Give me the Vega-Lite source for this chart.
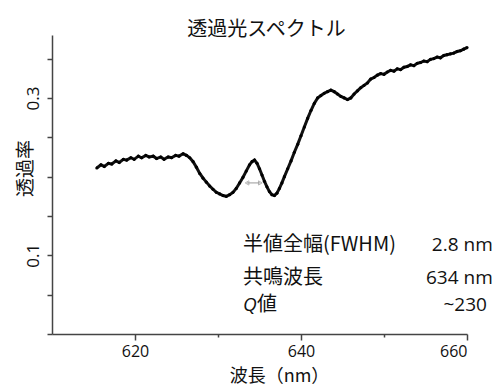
{
  "$schema": "https://vega.github.io/schema/vega-lite/v6.json",
  "autosize": {"type": "none"},
  "padding": {"left": 52, "top": 35, "right": 32, "bottom": 51},
  "width": 415,
  "height": 299,
  "background": "white",
  "title": {"text": "透過光スペクトル", "font": "Noto Sans CJK JP", "fontSize": 20, "fontWeight": "normal", "color": "#111", "anchor": "middle", "dx": 7, "offset": -5},
  "config": {"view": {"stroke": null}},
  "datasets": {
    "spectrum": [
      {"wl": 615.4, "T": 0.211}, {"wl": 615.9, "T": 0.215}, {"wl": 616.3, "T": 0.213}, {"wl": 616.8, "T": 0.217},
      {"wl": 617.2, "T": 0.216}, {"wl": 617.7, "T": 0.220}, {"wl": 618.1, "T": 0.218}, {"wl": 618.6, "T": 0.222},
      {"wl": 619.0, "T": 0.221}, {"wl": 619.5, "T": 0.224}, {"wl": 619.9, "T": 0.222}, {"wl": 620.4, "T": 0.226},
      {"wl": 620.8, "T": 0.224}, {"wl": 621.3, "T": 0.227}, {"wl": 621.7, "T": 0.225}, {"wl": 622.2, "T": 0.226},
      {"wl": 622.6, "T": 0.223}, {"wl": 623.1, "T": 0.225}, {"wl": 623.5, "T": 0.222}, {"wl": 624.0, "T": 0.225},
      {"wl": 624.4, "T": 0.224}, {"wl": 624.9, "T": 0.227}, {"wl": 625.3, "T": 0.226}, {"wl": 625.8, "T": 0.229},
      {"wl": 626.2, "T": 0.227}, {"wl": 626.6, "T": 0.224}, {"wl": 627.0, "T": 0.219}, {"wl": 627.4, "T": 0.212},
      {"wl": 627.8, "T": 0.204}, {"wl": 628.2, "T": 0.198}, {"wl": 628.6, "T": 0.193}, {"wl": 629.0, "T": 0.188},
      {"wl": 629.4, "T": 0.184}, {"wl": 629.8, "T": 0.180}, {"wl": 630.2, "T": 0.178}, {"wl": 630.6, "T": 0.176},
      {"wl": 631.0, "T": 0.175}, {"wl": 631.4, "T": 0.177}, {"wl": 631.8, "T": 0.180}, {"wl": 632.2, "T": 0.185},
      {"wl": 632.6, "T": 0.192}, {"wl": 633.0, "T": 0.199}, {"wl": 633.4, "T": 0.207}, {"wl": 633.8, "T": 0.215},
      {"wl": 634.1, "T": 0.219}, {"wl": 634.4, "T": 0.221}, {"wl": 634.7, "T": 0.217}, {"wl": 635.0, "T": 0.210},
      {"wl": 635.3, "T": 0.202}, {"wl": 635.6, "T": 0.194}, {"wl": 635.9, "T": 0.187}, {"wl": 636.2, "T": 0.181},
      {"wl": 636.5, "T": 0.177}, {"wl": 636.8, "T": 0.176}, {"wl": 637.1, "T": 0.179}, {"wl": 637.4, "T": 0.185},
      {"wl": 637.7, "T": 0.192}, {"wl": 638.0, "T": 0.200}, {"wl": 638.4, "T": 0.210}, {"wl": 638.8, "T": 0.220},
      {"wl": 639.2, "T": 0.231}, {"wl": 639.6, "T": 0.241}, {"wl": 640.0, "T": 0.252}, {"wl": 640.4, "T": 0.263},
      {"wl": 640.8, "T": 0.274}, {"wl": 641.2, "T": 0.284}, {"wl": 641.6, "T": 0.293}, {"wl": 642.0, "T": 0.300},
      {"wl": 642.4, "T": 0.303}, {"wl": 642.8, "T": 0.306}, {"wl": 643.2, "T": 0.308}, {"wl": 643.6, "T": 0.310},
      {"wl": 644.0, "T": 0.308}, {"wl": 644.4, "T": 0.305}, {"wl": 644.8, "T": 0.302}, {"wl": 645.2, "T": 0.300},
      {"wl": 645.6, "T": 0.298}, {"wl": 646.0, "T": 0.300}, {"wl": 646.4, "T": 0.305}, {"wl": 646.8, "T": 0.309},
      {"wl": 647.2, "T": 0.313}, {"wl": 647.6, "T": 0.316}, {"wl": 648.0, "T": 0.319}, {"wl": 648.4, "T": 0.324},
      {"wl": 648.8, "T": 0.326}, {"wl": 649.2, "T": 0.329}, {"wl": 649.6, "T": 0.331}, {"wl": 650.0, "T": 0.330},
      {"wl": 650.4, "T": 0.333}, {"wl": 650.8, "T": 0.335}, {"wl": 651.2, "T": 0.334}, {"wl": 651.6, "T": 0.337},
      {"wl": 652.0, "T": 0.336}, {"wl": 652.4, "T": 0.339}, {"wl": 652.8, "T": 0.340}, {"wl": 653.2, "T": 0.342},
      {"wl": 653.6, "T": 0.341}, {"wl": 654.0, "T": 0.344}, {"wl": 654.4, "T": 0.345}, {"wl": 654.8, "T": 0.347},
      {"wl": 655.2, "T": 0.346}, {"wl": 655.6, "T": 0.349}, {"wl": 656.0, "T": 0.350}, {"wl": 656.4, "T": 0.352},
      {"wl": 656.8, "T": 0.351}, {"wl": 657.2, "T": 0.354}, {"wl": 657.6, "T": 0.355}, {"wl": 658.0, "T": 0.356},
      {"wl": 658.4, "T": 0.357}, {"wl": 658.8, "T": 0.359}, {"wl": 659.2, "T": 0.360}, {"wl": 659.6, "T": 0.362},
      {"wl": 660.0, "T": 0.364}
    ],
    "arrow": [
      {"wl": 633.5, "T": 0.192, "dir": "left"},
      {"wl": 635.1, "T": 0.192, "dir": "right"}
    ],
    "notes": [
      {"wl": 633.0, "wr": 663.1, "T": 0.113, "label": "半値全幅(FWHM)", "value": "2.8 nm"},
      {"wl": 633.0, "wr": 663.1, "T": 0.071, "label": "共鳴波長", "value": "634 nm"},
      {"wl": 633.0, "wr": 662.4, "T": 0.037, "label": "", "value": "~230"}
    ],
    "qnote": [
      {"wl": 633.0, "T": 0.037, "q": "Q", "rest": "値"}
    ]
  },
  "layer": [
    {
      "data": {"name": "spectrum"},
      "mark": {"type": "line", "color": "#111", "strokeWidth": 3, "interpolate": "linear"},
      "encoding": {
        "x": {"field": "wl", "type": "quantitative", "scale": {"domain": [610, 660], "nice": false, "zero": false},
          "axis": {
            "values": [620, 630, 640, 650, 660],
            "labelExpr": "datum.value == 620 || datum.value == 640 || datum.value == 660 ? datum.label : ''",
            "format": "d",
            "title": "波長（nm）",
            "titleFont": "Noto Sans CJK JP", "titleFontSize": 18, "titleFontWeight": "normal", "titleColor": "#111",
            "titleX": 227, "titlePadding": 8,
            "labelFont": "Open Sans", "labelFontSize": 16, "labelColor": "#111", "labelPadding": 3,
            "domainColor": "#444", "domainWidth": 1.5,
            "tickColor": "#444", "tickWidth": 1.5,
            "tickSize": {"condition": {"test": "datum.value == 620 || datum.value == 640 || datum.value == 660", "value": 6}, "value": 3},
            "grid": false
          }},
        "y": {"field": "T", "type": "quantitative", "scale": {"domain": [0, 0.38], "nice": false},
          "axis": {
            "values": [0, 0.05, 0.1, 0.15, 0.2, 0.25, 0.3, 0.35],
            "labelExpr": "datum.value == 0.1 || datum.value == 0.3 ? datum.label : ''",
            "format": ".1f",
            "labelAngle": -90, "labelAlign": "center", "labelBaseline": "bottom",
            "labelFont": "Open Sans", "labelFontSize": 17, "labelColor": "#111", "labelPadding": 5,
            "title": "透過率",
            "titleFont": "Noto Sans CJK JP", "titleFontSize": 19, "titleFontWeight": "normal", "titleColor": "#111",
            "titleX": -27, "titleY": 133, "titleBaseline": "middle", "titleAlign": "center",
            "domainColor": "#444", "domainWidth": 1.5,
            "tickColor": "#444", "tickWidth": 1.5, "tickSize": 5,
            "grid": false
          }}
      }
    },
    {
      "data": {"name": "spectrum"},
      "mark": {"type": "point", "filled": true, "color": "#000", "size": 10, "opacity": 1},
      "encoding": {
        "x": {"field": "wl", "type": "quantitative"},
        "y": {"field": "T", "type": "quantitative"}
      }
    },
    {
      "data": {"name": "arrow"},
      "mark": {"type": "line", "color": "#999", "strokeWidth": 1},
      "encoding": {
        "x": {"field": "wl", "type": "quantitative"},
        "y": {"field": "T", "type": "quantitative"}
      }
    },
    {
      "data": {"name": "arrow"},
      "mark": {"type": "point", "filled": false, "color": "#999", "size": 18, "strokeWidth": 1},
      "encoding": {
        "x": {"field": "wl", "type": "quantitative"},
        "y": {"field": "T", "type": "quantitative"},
        "shape": {"field": "dir", "type": "nominal", "scale": {"domain": ["left", "right"], "range": ["triangle-left", "triangle-right"]}, "legend": null}
      }
    },
    {
      "data": {"name": "notes"},
      "mark": {"type": "text", "align": "left", "baseline": "middle", "font": "Noto Sans CJK JP", "fontSize": 20, "color": "#111"},
      "encoding": {
        "x": {"field": "wl", "type": "quantitative"},
        "y": {"field": "T", "type": "quantitative"},
        "text": {"field": "label"}
      }
    },
    {
      "data": {"name": "notes"},
      "mark": {"type": "text", "align": "right", "baseline": "middle", "font": "Open Sans", "fontSize": 19, "color": "#111"},
      "encoding": {
        "x": {"field": "wr", "type": "quantitative"},
        "y": {"field": "T", "type": "quantitative"},
        "text": {"field": "value"}
      }
    },
    {
      "data": {"name": "qnote"},
      "mark": {"type": "text", "align": "left", "baseline": "middle", "font": "Open Sans", "fontStyle": "italic", "fontSize": 19, "color": "#111"},
      "encoding": {
        "x": {"field": "wl", "type": "quantitative"},
        "y": {"field": "T", "type": "quantitative"},
        "text": {"field": "q"}
      }
    },
    {
      "data": {"name": "qnote"},
      "mark": {"type": "text", "align": "left", "baseline": "middle", "font": "Noto Sans CJK JP", "fontSize": 20, "color": "#111", "dx": 14},
      "encoding": {
        "x": {"field": "wl", "type": "quantitative"},
        "y": {"field": "T", "type": "quantitative"},
        "text": {"field": "rest"}
      }
    }
  ]
}
